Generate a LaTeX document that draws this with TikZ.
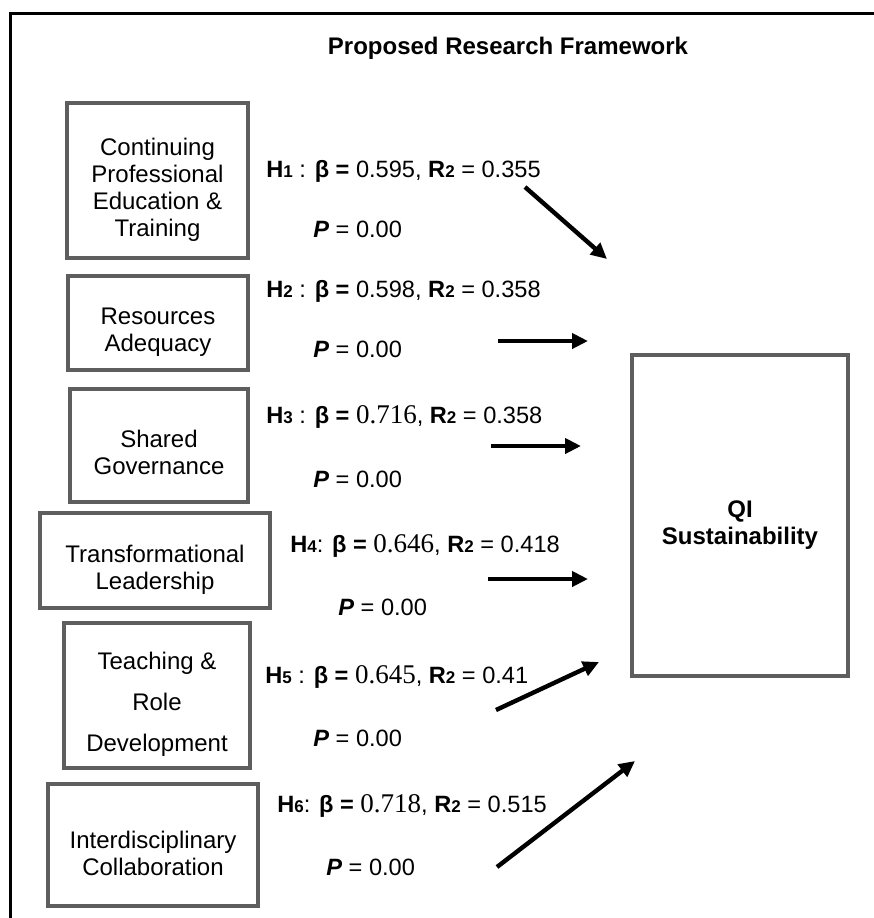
\documentclass[tikz,border=0pt]{standalone}
\usepackage{fontspec}
\setmainfont{Liberation Sans}
\newfontfamily\timesnum{Liberation Serif}
\usepackage{tikz}
\usetikzlibrary{arrows.meta}
\definecolor{boxgray}{HTML}{5E5E5E}
\newcommand{\sm}[1]{{\fontsize{8.5}{8.5}\selectfont #1}}
\newcommand{\tn}[1]{{\timesnum\fontsize{13.5}{13.5}\selectfont #1}}
\newcommand{\dn}{\rule{0pt}{17.5pt}}

\begin{document}
\begin{tikzpicture}[x=0.5pt,y=-0.5pt,
  box/.style={draw=boxgray, line width=2pt, inner sep=0pt, align=center, font=\fontsize{12}{13.5}\selectfont},
  lbl/.style={anchor=base west, inner sep=0pt, font=\fontsize{11.8}{13}\selectfont},
  arr/.style={-{Triangle[length=8pt,width=7.5pt]}, line width=2.2pt}]
  \useasboundingbox (0,0) rectangle (874,918);
  % open frame
  \draw[line width=1.5pt] (874,13) -- (10,13) -- (10,918);
  \node (title) at (508,48) {\fontsize{12}{13}\selectfont\bfseries Proposed Research Framework};

  % factors
  \node[box, minimum width=90.5pt, minimum height=77.5pt] (cpe) at (157.5,180.5) {\dn Continuing\\Professional\\Education \&\\Training};
  \node[box, minimum width=90pt, minimum height=47pt] (res) at (158,323) {\dn Resources\\Adequacy};
  \node[box, minimum width=89pt, minimum height=56.5pt] (gov) at (159,445.5) {\rule{0pt}{15.5pt}Shared\\Governance};
  \node[box, minimum width=115pt, minimum height=47.5pt] (lead) at (155,560.5) {\dn Transformational\\Leadership};
  \node[box, minimum width=93pt, minimum height=72.5pt, font=\fontsize{12}{20.5}\selectfont] (teach) at (157,695.5) {\dn Teaching \&\\Role\\Development};
  \node[box, minimum width=105pt, minimum height=61pt] (collab) at (153,845) {\dn Interdisciplinary\\Collaboration};
  \node[box, minimum width=108pt, minimum height=160.5pt, font=\fontsize{12}{13.5}\selectfont\bfseries] (qi) at (740,515.5) {\dn QI\\Sustainability};

  % hypotheses
  \node[lbl] (h1) at (266,177) {\textbf{H\sm{1}} : \textbf{β =} 0.595, \textbf{R\sm{2}} = 0.355};
  \node[lbl] (p1) at (313,237) {\textbf{\textit{P}} = 0.00};
  \node[lbl] (h2) at (266,297) {\textbf{H\sm{2}} : \textbf{β =} 0.598, \textbf{R\sm{2}} = 0.358};
  \node[lbl] (p2) at (313,357) {\textbf{\textit{P}} = 0.00};
  \node[lbl] (h3) at (266,423) {\textbf{H\sm{3}} : \textbf{β =} \tn{0.716}, \textbf{R\sm{2}} = 0.358};
  \node[lbl] (p3) at (313,487) {\textbf{\textit{P}} = 0.00};
  \node[lbl] (h4) at (290,552) {\textbf{H\sm{4}}: \textbf{β =} \tn{0.646}, \textbf{R\sm{2}} = 0.418};
  \node[lbl] (p4) at (338,615) {\textbf{\textit{P}} = 0.00};
  \node[lbl] (h5) at (265,683) {\textbf{H\sm{5}} : \textbf{β =} \tn{0.645}, \textbf{R\sm{2}} = 0.41};
  \node[lbl] (p5) at (313,746) {\textbf{\textit{P}} = 0.00};
  \node[lbl] (h6) at (277,812) {\textbf{H\sm{6}}: \textbf{β =} \tn{0.718}, \textbf{R\sm{2}} = 0.515};
  \node[lbl] (p6) at (326,875) {\textbf{\textit{P}} = 0.00};

  % arrow ends
  \coordinate (s1) at (525,187);  \coordinate (e1) at (607,259);
  \coordinate (s2) at (498,341);  \coordinate (e2) at (588,341);
  \coordinate (s3) at (491,446);  \coordinate (e3) at (581,446);
  \coordinate (s4) at (488,579);  \coordinate (e4) at (588,579);
  \coordinate (s5) at (496,710);  \coordinate (e5) at (599,662);
  \coordinate (s6) at (497,867);  \coordinate (e6) at (635,761);
  \path[arr]
  (s1) edge (e1)
  (s2) edge (e2)
  (s3) edge (e3)
  (s4) edge (e4)
  (s5) edge (e5)
  (s6) edge (e6)
  ;
\end{tikzpicture}
\end{document}
